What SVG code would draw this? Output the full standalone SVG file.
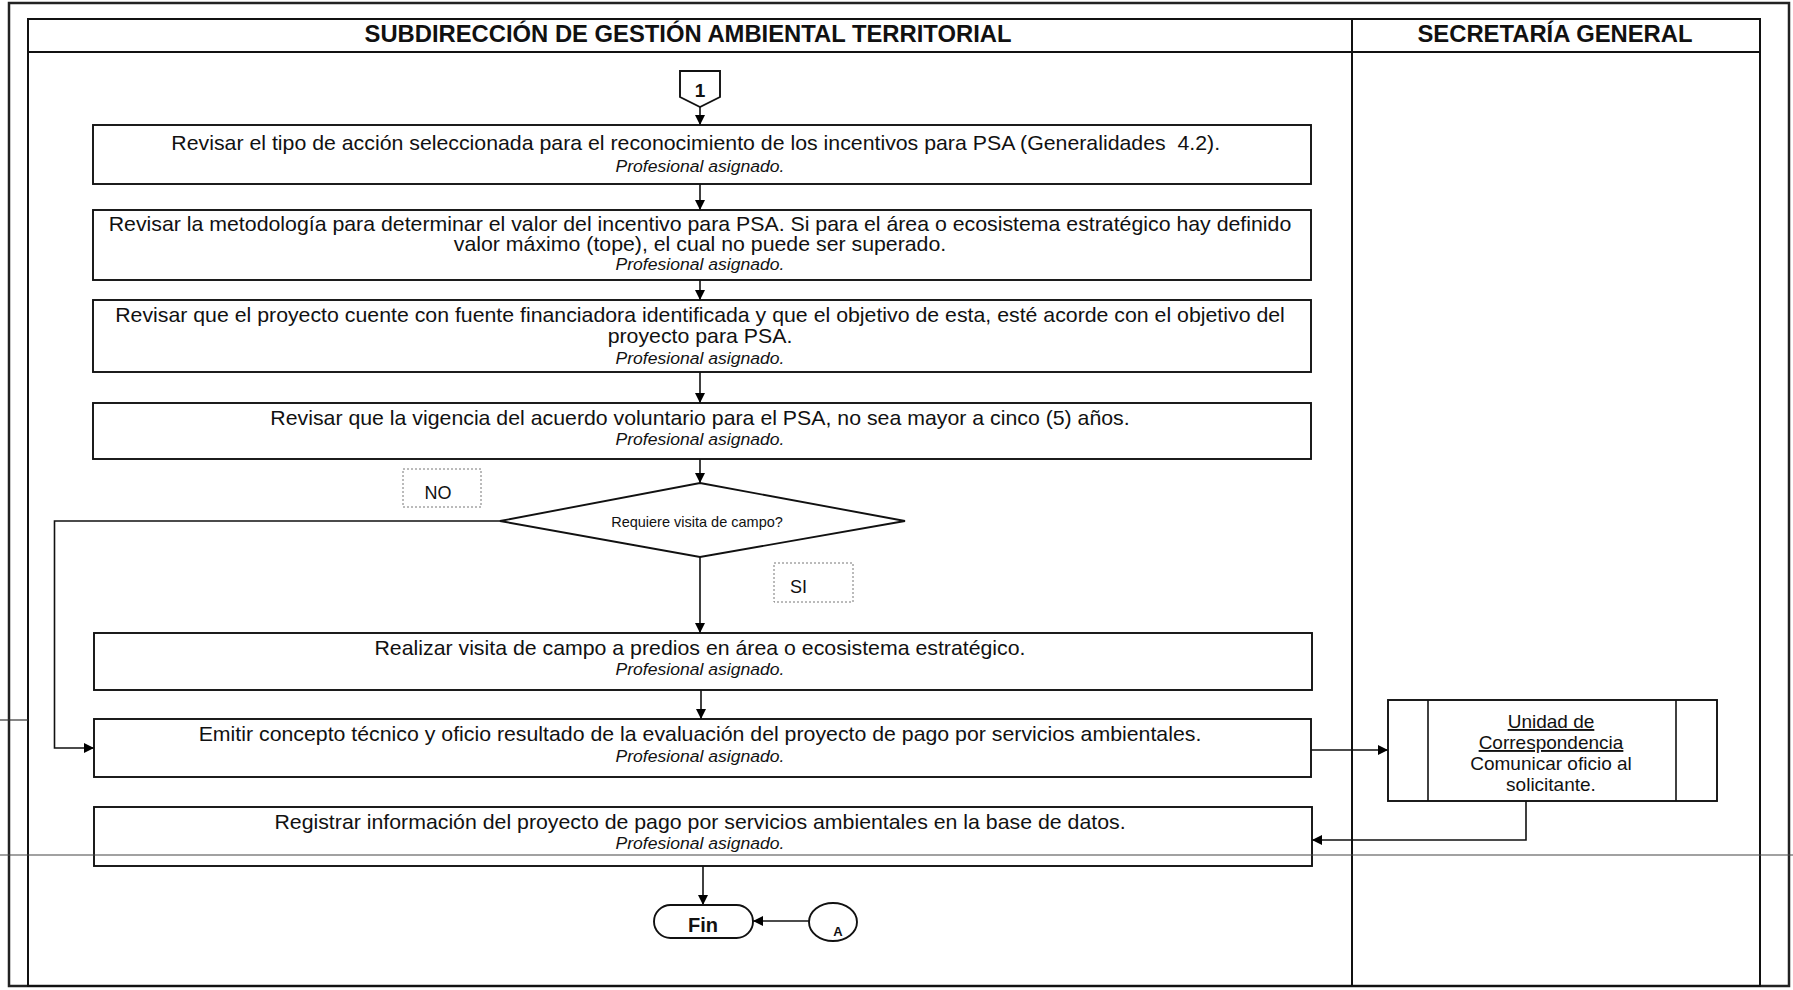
<svg xmlns="http://www.w3.org/2000/svg" width="1793" height="990" viewBox="0 0 1793 990">
<defs>
<marker id="arr" markerUnits="userSpaceOnUse" markerWidth="10" markerHeight="10" refX="10" refY="5" orient="auto">
<path d="M0,0 L10,5 L0,10 z" fill="#000"/>
</marker>
<style>
.t{font-family:"Liberation Sans",Arial,sans-serif;fill:#111;}
.m{font-size:20px;text-anchor:middle;}
.i{font-size:16.5px;font-style:italic;text-anchor:middle;}
.h{font-size:23.8px;font-weight:bold;text-anchor:middle;}
.box{fill:#fff;stroke:#111;stroke-width:1.9;}
.lane{fill:none;stroke:#111;stroke-width:2;}
.lbl{fill:#fff;stroke:#777;stroke-width:1;stroke-dasharray:2,2;}
.c{fill:none;stroke:#111;stroke-width:1.6;}
.ca{fill:none;stroke:#111;stroke-width:1.6;marker-end:url(#arr);}
</style>
</defs>
<rect width="1793" height="990" fill="#fff"/>
<g id="frame">
<rect x="9" y="3" width="1780" height="983" fill="none" stroke="#222" stroke-width="2.5"/>
<rect x="28" y="19" width="1732" height="967" class="lane"/>
<line x1="28" y1="52" x2="1760" y2="52" class="lane"/>
<line x1="1352" y1="19" x2="1352" y2="986" class="lane"/>
<line x1="0" y1="720" x2="28" y2="720" stroke="#333" stroke-width="1.2"/>
<text class="t h" x="688" y="42">SUBDIRECCIÓN DE GESTIÓN AMBIENTAL TERRITORIAL</text>
<text class="t h" x="1555" y="42">SECRETARÍA GENERAL</text>
</g>
<g id="connectors">
<line x1="700" y1="107" x2="700" y2="125" class="ca"/>
<line x1="700" y1="184" x2="700" y2="210" class="ca"/>
<line x1="700" y1="280" x2="700" y2="300" class="ca"/>
<line x1="700" y1="372" x2="700" y2="403" class="ca"/>
<line x1="700" y1="459" x2="700" y2="483" class="ca"/>
<line x1="700" y1="557" x2="700" y2="633" class="ca"/>
<polyline points="500,521 54.5,521 54.5,748 94,748" class="ca"/>
<line x1="701" y1="690" x2="701" y2="719" class="ca"/>
<line x1="1311" y1="750" x2="1388" y2="750" class="ca"/>
<polyline points="1526,801 1526,840 1312,840" class="ca"/>
<line x1="703" y1="866" x2="703" y2="905" class="ca"/>
<line x1="809" y1="921" x2="753" y2="921" class="ca"/>
</g>
<g id="n_start">
<path d="M680,71 L720,71 L720,97 L700,107 L680,97 z" class="box"/>
<text class="t" x="700" y="97" font-size="19" font-weight="bold" text-anchor="middle">1</text>
</g>
<g id="n1">
<rect x="93" y="125" width="1218" height="59" class="box"/>
<g transform="matrix(1.065,0,0,1,-45.5,0)">
<text class="t m" x="696" y="150">Revisar el tipo de acción seleccionada para el reconocimiento de los incentivos para PSA (Generalidades&#160; 4.2).</text>
<text class="t i" x="700" y="172">Profesional asignado.</text>
</g>
</g>
<g id="n2">
<rect x="93" y="210" width="1218" height="70" class="box"/>
<g transform="matrix(1.065,0,0,1,-45.5,0)">
<text class="t m" x="700" y="231">Revisar la metodología para determinar el valor del incentivo para PSA. Si para el área o ecosistema estratégico hay definido</text>
<text class="t m" x="700" y="251">valor máximo (tope), el cual no puede ser superado.</text>
<text class="t i" x="700" y="270">Profesional asignado.</text>
</g>
</g>
<g id="n3">
<rect x="93" y="300" width="1218" height="72" class="box"/>
<g transform="matrix(1.065,0,0,1,-45.5,0)">
<text class="t m" x="700" y="322">Revisar que el proyecto cuente con fuente financiadora identificada y que el objetivo de esta, esté acorde con el objetivo del</text>
<text class="t m" x="700" y="343">proyecto para PSA.</text>
<text class="t i" x="700" y="364">Profesional asignado.</text>
</g>
</g>
<g id="n4">
<rect x="93" y="403" width="1218" height="56" class="box"/>
<g transform="matrix(1.065,0,0,1,-45.5,0)">
<text class="t m" x="700" y="425">Revisar que la vigencia del acuerdo voluntario para el PSA, no sea mayor a cinco (5) años.</text>
<text class="t i" x="700" y="445">Profesional asignado.</text>
</g>
</g>
<g id="n_dec">
<polygon points="700,483 905,521 700,557 500,521" class="box" stroke-width="1.5"/>
<text class="t" x="697" y="527" font-size="14.5" text-anchor="middle">Requiere visita de campo?</text>
</g>
<g id="lbl_no">
<rect x="403" y="469" width="78" height="38" class="lbl"/>
<text class="t" x="438" y="499" font-size="18" text-anchor="middle">NO</text>
</g>
<g id="lbl_si">
<rect x="774" y="563" width="79" height="39" class="lbl"/>
<text class="t" x="790" y="593" font-size="18">SI</text>
</g>
<g id="n5">
<rect x="94" y="633" width="1218" height="57" class="box"/>
<g transform="matrix(1.065,0,0,1,-45.5,0)">
<text class="t m" x="700" y="655">Realizar visita de campo a predios en área o ecosistema estratégico.</text>
<text class="t i" x="700" y="675">Profesional asignado.</text>
</g>
</g>
<g id="n6">
<rect x="94" y="719" width="1217" height="58" class="box"/>
<g transform="matrix(1.065,0,0,1,-45.5,0)">
<text class="t m" x="700" y="741">Emitir concepto técnico y oficio resultado de la evaluación del proyecto de pago por servicios ambientales.</text>
<text class="t i" x="700" y="762">Profesional asignado.</text>
</g>
</g>
<g id="n7">
<rect x="1388" y="700" width="329" height="101" class="box"/>
<line x1="1428" y1="700" x2="1428" y2="801" class="c"/>
<line x1="1676" y1="700" x2="1676" y2="801" class="c"/>
<text class="t" x="1551" y="728" font-size="19" text-anchor="middle" text-decoration="underline">Unidad de</text>
<text class="t" x="1551" y="749" font-size="19" text-anchor="middle" text-decoration="underline">Correspondencia</text>
<text class="t" x="1551" y="770" font-size="19" text-anchor="middle">Comunicar oficio al</text>
<text class="t" x="1551" y="791" font-size="19" text-anchor="middle">solicitante.</text>
</g>
<g id="n8">
<rect x="94" y="807" width="1218" height="59" class="box"/>
<g transform="matrix(1.065,0,0,1,-45.5,0)">
<text class="t m" x="700" y="829">Registrar información del proyecto de pago por servicios ambientales en la base de datos.</text>
<text class="t i" x="700" y="849">Profesional asignado.</text>
</g>
</g>
<g id="pageline">
<line x1="0" y1="855" x2="1793" y2="855" stroke="#444" stroke-width="1.2"/>
</g>
<g id="n_fin">
<rect x="654" y="905" width="99" height="33" rx="16.5" ry="16.5" class="box"/>
<text class="t" x="703" y="932" font-size="20" font-weight="bold" text-anchor="middle">Fin</text>
</g>
<g id="n_a">
<ellipse cx="833" cy="922" rx="24" ry="19" class="box"/>
<text class="t" x="838" y="936" font-size="13" font-weight="bold" text-anchor="middle">A</text>
</g>
</svg>
